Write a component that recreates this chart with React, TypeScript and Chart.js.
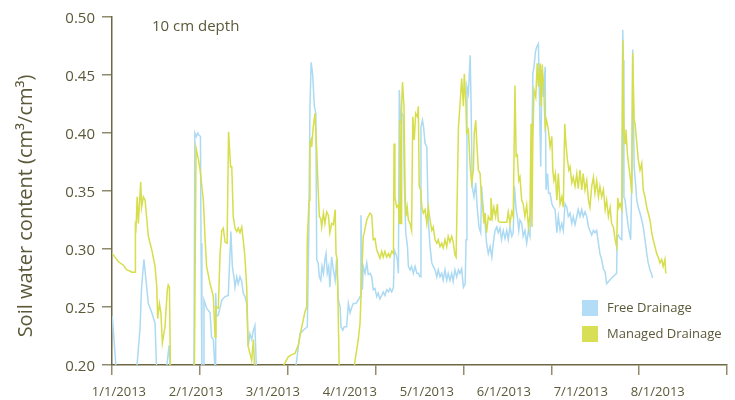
import React, { useEffect, useRef } from 'react';
import { Chart, registerables } from 'chart.js';

Chart.register(...registerables);

// ---- Data (x = days since 1/1/2013, y = volumetric water content) ----
const MONTH_LABELS = ['1/1/2013', '2/1/2013', '3/1/2013', '4/1/2013', '5/1/2013', '6/1/2013', '7/1/2013', '8/1/2013'];
const SERIES_NAMES = ['Free Drainage', 'Managed Drainage'];
const Y_TITLE = 'Soil water content (cm³/cm³)';
const ANNOTATION = '10 cm depth';

const FREE_DAY = [
  0.1, 1.6, 2.0, 8.0, 8.4, 9.6, 10.1, 10.9, 11.5, 12.4, 13.6, 14.7, 15.3, 15.6, 18.2, 18.5, 19.5, 19.9, 20.2, 27.9,
  28.3, 28.8, 29.3, 29.7, 30.2, 30.4, 30.7, 31.0, 31.2, 31.4, 32.3, 33.5, 34.0, 34.6, 35.2, 35.4, 35.7, 36.3, 37.5, 38.6,
  39.7, 40.6, 41.1, 41.8, 42.0, 42.6, 43.1, 43.7, 44.3, 44.8, 45.4, 46.0, 46.5, 47.1, 47.7, 48.3, 48.8, 49.4, 49.7, 62.0,
  62.6, 64.2, 65.3, 66.7, 67.2, 67.6, 68.0, 68.5, 69.1, 69.6, 69.9, 70.4, 70.8, 71.3, 71.7, 72.2, 72.7, 73.1, 73.5, 74.0,
  74.4, 75.0, 75.6, 76.2, 76.7, 77.3, 77.9, 78.2, 78.8, 79.3, 80.1, 80.7, 81.3, 81.9, 82.4, 83.3, 84.1, 84.7, 85.0, 85.5,
  85.8, 86.4, 87.0, 87.5, 88.1, 88.7, 89.2, 89.8, 90.4, 90.9, 91.5, 92.1, 92.6, 93.2, 93.8, 94.4, 94.9, 95.5, 96.1, 96.4,
  96.9, 97.4, 97.8, 98.1, 98.6, 98.9, 99.5, 99.8, 100.3, 100.9, 101.2, 101.8, 102.3, 102.9, 103.5, 104.1, 104.6, 105.2, 105.5, 106.0,
  106.4, 106.9, 107.5, 108.0, 108.6, 109.2, 109.7, 110.3, 110.9, 111.4, 112.0, 112.6, 113.1, 113.7, 114.3, 114.8, 115.4, 116.0, 116.5, 117.1,
  117.7, 118.3, 118.8, 119.4, 120.0, 120.6, 120.9, 121.2, 121.7, 122.3, 122.6, 123.0, 123.6, 124.2, 124.7, 125.3, 125.9, 126.2, 126.8, 127.4,
  127.9, 128.5, 129.1, 129.7, 130.2, 130.8, 131.4, 131.9, 132.5, 133.0, 133.6, 134.2, 134.8, 135.3, 135.9, 136.5, 137.0, 137.4, 138.0, 138.4,
  138.9, 139.3, 139.9, 140.4, 141.0, 141.6, 142.2, 142.7, 143.2, 143.7, 144.1, 144.6, 145.0, 145.6, 145.9, 146.4, 146.8, 147.3, 147.9, 148.2,
  148.7, 149.1, 149.6, 150.2, 150.7, 151.3, 151.9, 152.4, 153.0, 153.6, 154.1, 154.7, 155.3, 155.8, 156.4, 157.0, 157.5, 158.1, 158.7, 159.2,
  159.8, 160.4, 160.9, 161.5, 162.1, 162.7, 163.2, 163.8, 164.4, 164.9, 165.5, 166.1, 166.6, 167.2, 167.8, 168.4, 168.9, 170.6, 172.3, 172.5,
  172.9, 173.5, 174.1, 174.4, 174.6, 174.8, 175.2, 175.7, 176.3, 176.9, 177.1, 177.5, 177.8, 178.3, 178.6, 179.2, 179.7, 180.3, 180.9, 181.4,
  182.0, 182.6, 183.1, 183.7, 184.3, 184.6,
];
const FREE_VWC = [
  0.242, 0.190, 0.150, 0.150, 0.195, 0.233, 0.267, 0.291, 0.276, 0.253, 0.245, 0.236, 0.190, 0.150, 0.150, 0.195, 0.217, 0.190, 0.150, 0.150,
  0.400, 0.397, 0.400, 0.398, 0.397, 0.305, 0.190, 0.150, 0.150, 0.256, 0.249, 0.245, 0.224, 0.222, 0.195, 0.262, 0.242, 0.243, 0.256, 0.259,
  0.260, 0.315, 0.285, 0.273, 0.267, 0.276, 0.270, 0.276, 0.272, 0.262, 0.259, 0.253, 0.216, 0.227, 0.222, 0.230, 0.234, 0.190, 0.150, 0.150,
  0.195, 0.227, 0.230, 0.233, 0.311, 0.423, 0.461, 0.451, 0.423, 0.417, 0.291, 0.288, 0.276, 0.273, 0.285, 0.279, 0.291, 0.296, 0.279, 0.285,
  0.267, 0.293, 0.282, 0.273, 0.291, 0.256, 0.250, 0.233, 0.230, 0.233, 0.233, 0.253, 0.245, 0.250, 0.253, 0.253, 0.256, 0.259, 0.329, 0.265,
  0.285, 0.279, 0.288, 0.278, 0.279, 0.276, 0.265, 0.266, 0.259, 0.262, 0.257, 0.260, 0.263, 0.260, 0.265, 0.263, 0.266, 0.263, 0.267, 0.299,
  0.296, 0.291, 0.279, 0.437, 0.408, 0.417, 0.414, 0.359, 0.314, 0.302, 0.285, 0.282, 0.285, 0.279, 0.285, 0.279, 0.279, 0.276, 0.405, 0.411,
  0.405, 0.391, 0.388, 0.325, 0.302, 0.288, 0.285, 0.282, 0.276, 0.282, 0.276, 0.279, 0.273, 0.282, 0.273, 0.279, 0.273, 0.279, 0.272, 0.282,
  0.276, 0.282, 0.279, 0.283, 0.267, 0.270, 0.308, 0.440, 0.434, 0.467, 0.426, 0.354, 0.345, 0.357, 0.336, 0.319, 0.314, 0.354, 0.334, 0.322,
  0.305, 0.296, 0.302, 0.293, 0.305, 0.316, 0.319, 0.314, 0.318, 0.308, 0.316, 0.309, 0.316, 0.308, 0.319, 0.311, 0.314, 0.354, 0.334, 0.328,
  0.316, 0.325, 0.322, 0.311, 0.316, 0.305, 0.316, 0.311, 0.354, 0.451, 0.457, 0.470, 0.474, 0.477, 0.437, 0.371, 0.454, 0.431, 0.457, 0.351,
  0.365, 0.348, 0.348, 0.339, 0.336, 0.334, 0.314, 0.328, 0.316, 0.322, 0.316, 0.339, 0.336, 0.328, 0.331, 0.322, 0.328, 0.321, 0.328, 0.334,
  0.328, 0.334, 0.328, 0.332, 0.328, 0.319, 0.316, 0.312, 0.316, 0.314, 0.316, 0.305, 0.296, 0.291, 0.283, 0.280, 0.270, 0.275, 0.279, 0.311,
  0.312, 0.309, 0.308, 0.489, 0.463, 0.345, 0.342, 0.331, 0.319, 0.311, 0.308, 0.362, 0.472, 0.371, 0.362, 0.342, 0.336, 0.331, 0.325, 0.319,
  0.308, 0.296, 0.288, 0.282, 0.278, 0.275,
];

const MANAGED_DAY = [
  0.1, 1.0, 2.2, 3.9, 5.0, 6.1, 6.7, 7.9, 8.0, 8.2, 8.6, 9.0, 9.8, 10.1, 10.7, 11.3, 11.8, 12.4, 13.6, 14.7,
  15.3, 15.6, 16.2, 16.7, 17.2, 18.1, 18.9, 19.2, 19.6, 20.0, 20.3, 28.0, 28.7, 29.5, 30.1, 31.2, 31.8, 32.3, 33.5, 34.6,
  35.2, 35.5, 36.3, 36.9, 37.5, 38.0, 38.6, 39.3, 39.8, 40.5, 40.9, 41.4, 42.0, 42.6, 43.1, 43.7, 44.3, 44.8, 45.4, 46.0,
  46.5, 47.1, 47.7, 48.3, 48.8, 49.2, 57.2, 57.6, 60.2, 61.4, 62.5, 63.6, 64.8, 65.9, 66.5, 66.7, 67.3, 67.6, 68.0, 68.2,
  68.7, 69.3, 69.9, 70.4, 70.8, 71.3, 71.6, 72.2, 72.7, 73.3, 73.9, 74.4, 75.0, 75.6, 76.2, 76.5, 76.9, 77.6, 77.9, 82.0,
  82.4, 83.0, 84.1, 84.7, 85.3, 85.8, 86.2, 87.0, 87.5, 88.1, 88.7, 89.2, 89.8, 90.4, 90.9, 91.5, 92.1, 92.6, 93.2, 93.8,
  94.4, 94.9, 95.5, 96.1, 96.3, 96.6, 97.2, 97.8, 98.1, 98.3, 98.7, 98.9, 99.2, 99.7, 100.1, 100.4, 100.8, 101.2, 101.8, 102.3,
  102.7, 103.2, 103.7, 104.3, 104.6, 104.9, 105.4, 105.8, 106.3, 106.9, 107.5, 108.0, 108.6, 109.2, 109.7, 110.3, 110.9, 111.4, 112.0, 112.6,
  113.1, 113.7, 114.3, 114.8, 115.4, 116.0, 116.5, 117.1, 117.5, 117.9, 118.3, 118.8, 119.4, 120.0, 120.3, 120.8, 121.1, 121.7, 122.3, 122.8,
  123.4, 123.7, 124.2, 124.5, 125.1, 125.7, 126.2, 126.6, 127.0, 127.4, 127.9, 128.5, 129.1, 129.4, 129.9, 130.4, 131.0, 131.6, 131.9, 132.5,
  134.8, 135.3, 135.9, 136.5, 137.0, 137.6, 138.0, 138.4, 138.9, 139.3, 139.9, 140.4, 141.0, 141.6, 142.2, 142.7, 143.1, 143.4, 143.7, 144.1,
  144.7, 145.2, 145.6, 146.2, 146.5, 146.9, 147.4, 147.9, 148.4, 149.0, 149.6, 150.2, 150.5, 150.9, 151.4, 151.9, 152.4, 153.0, 153.6, 154.1,
  154.6, 155.0, 155.5, 156.0, 156.4, 157.0, 157.5, 158.1, 158.7, 159.2, 159.8, 160.4, 160.9, 161.5, 162.1, 162.7, 163.2, 163.8, 164.4, 164.9,
  165.5, 166.1, 166.6, 167.2, 167.8, 168.4, 168.9, 169.5, 170.1, 170.6, 171.2, 171.8, 172.3, 172.7, 173.1, 173.5, 174.1, 174.4, 174.8, 175.2,
  175.5, 176.0, 176.5, 177.1, 177.5, 177.8, 178.3, 178.6, 179.2, 179.7, 180.3, 180.9, 181.4, 182.0, 182.6, 183.1, 183.7, 184.3, 184.8, 185.4,
  186.0, 186.5, 187.1, 187.7, 188.2, 188.8, 189.1,
];
const MANAGED_VWC = [
  0.296, 0.293, 0.289, 0.286, 0.282, 0.281, 0.280, 0.280, 0.320, 0.318, 0.345, 0.322, 0.358, 0.336, 0.345, 0.342, 0.328, 0.311, 0.299, 0.285,
  0.267, 0.240, 0.253, 0.245, 0.219, 0.233, 0.265, 0.269, 0.267, 0.190, 0.150, 0.150, 0.387, 0.377, 0.368, 0.342, 0.308, 0.285, 0.270, 0.259,
  0.224, 0.250, 0.249, 0.296, 0.316, 0.318, 0.306, 0.305, 0.401, 0.371, 0.371, 0.328, 0.318, 0.315, 0.318, 0.314, 0.319, 0.308, 0.293, 0.267,
  0.216, 0.210, 0.204, 0.222, 0.190, 0.150, 0.150, 0.195, 0.207, 0.209, 0.210, 0.217, 0.233, 0.246, 0.250, 0.309, 0.342, 0.391, 0.394, 0.388,
  0.405, 0.417, 0.385, 0.351, 0.328, 0.326, 0.319, 0.331, 0.322, 0.332, 0.329, 0.314, 0.322, 0.321, 0.334, 0.296, 0.291, 0.195, 0.150, 0.150,
  0.190, 0.204, 0.222, 0.236, 0.279, 0.311, 0.315, 0.325, 0.328, 0.331, 0.329, 0.308, 0.309, 0.299, 0.296, 0.292, 0.298, 0.293, 0.298, 0.293,
  0.296, 0.293, 0.298, 0.296, 0.391, 0.345, 0.336, 0.338, 0.322, 0.411, 0.322, 0.423, 0.444, 0.423, 0.348, 0.328, 0.336, 0.325, 0.322, 0.316,
  0.414, 0.394, 0.417, 0.414, 0.423, 0.354, 0.351, 0.336, 0.331, 0.334, 0.322, 0.336, 0.325, 0.316, 0.319, 0.308, 0.305, 0.308, 0.302, 0.305,
  0.301, 0.308, 0.302, 0.311, 0.306, 0.311, 0.306, 0.295, 0.293, 0.349, 0.405, 0.423, 0.447, 0.423, 0.451, 0.428, 0.400, 0.403, 0.371, 0.357,
  0.368, 0.400, 0.411, 0.394, 0.368, 0.365, 0.342, 0.336, 0.322, 0.331, 0.314, 0.328, 0.325, 0.344, 0.328, 0.336, 0.328, 0.339, 0.324, 0.323,
  0.323, 0.332, 0.322, 0.332, 0.328, 0.441, 0.380, 0.381, 0.359, 0.362, 0.342, 0.339, 0.328, 0.338, 0.319, 0.329, 0.408, 0.319, 0.394, 0.437,
  0.431, 0.460, 0.440, 0.460, 0.423, 0.459, 0.440, 0.405, 0.411, 0.403, 0.388, 0.397, 0.368, 0.359, 0.365, 0.342, 0.365, 0.339, 0.345, 0.336,
  0.408, 0.391, 0.377, 0.368, 0.371, 0.357, 0.362, 0.354, 0.365, 0.352, 0.368, 0.351, 0.365, 0.351, 0.359, 0.342, 0.336, 0.354, 0.362, 0.348,
  0.359, 0.345, 0.354, 0.345, 0.351, 0.334, 0.342, 0.328, 0.336, 0.322, 0.319, 0.308, 0.302, 0.344, 0.336, 0.339, 0.334, 0.480, 0.403, 0.391,
  0.403, 0.382, 0.371, 0.359, 0.348, 0.469, 0.411, 0.408, 0.391, 0.377, 0.368, 0.374, 0.351, 0.345, 0.336, 0.331, 0.325, 0.314, 0.308, 0.302,
  0.296, 0.293, 0.288, 0.291, 0.285, 0.291, 0.279,
];

// ---- Styling ----
const TEXT_COLOR = '#5b5939';
const AXIS_COLOR = '#6c6843';
const TICK_COLOR = '#8f8b6c';
const FREE_COLOR = '#acdaf3';
const MANAGED_COLOR = '#d6de4c';
const FREE_BOX = '#b3ddf6';
const MANAGED_BOX = '#d8df55';
const FONT = '"Open Sans", "Noto Sans", sans-serif';

const toPoints = (xs: number[], ys: number[]) => xs.map((x, i) => ({ x, y: ys[i] }));

const overlayPlugin = {
  id: 'overlayText',
  afterDraw(chart: any) {
    const { ctx, chartArea } = chart;
    ctx.save();
    ctx.fillStyle = TEXT_COLOR;

    // annotation
    ctx.font = `15px ${FONT}`;
    ctx.textAlign = 'left';
    ctx.textBaseline = 'alphabetic';
    ctx.fillText(ANNOTATION, chartArea.left + 40, chartArea.top + 14);

    // y-axis title
    ctx.save();
    ctx.translate(26, chartArea.top + 189);
    ctx.rotate(-Math.PI / 2);
    ctx.font = `20px ${FONT}`;
    ctx.textAlign = 'center';
    ctx.textBaseline = 'middle';
    ctx.fillText(Y_TITLE, 0, 0);
    ctx.restore();

    // legend
    const boxes = [FREE_BOX, MANAGED_BOX];
    const lx = chartArea.right - 145;
    const ly = chartArea.bottom - 65;
    ctx.font = `13px ${FONT}`;
    ctx.textBaseline = 'middle';
    SERIES_NAMES.forEach((name, i) => {
      const top = ly + i * 26;
      ctx.fillStyle = boxes[i];
      ctx.fillRect(lx, top, 16, 16);
      ctx.fillStyle = TEXT_COLOR;
      ctx.fillText(name, lx + 25, top + 8.5);
    });
    ctx.restore();
  },
};

export default function App() {
  const canvasRef = useRef<HTMLCanvasElement | null>(null);

  useEffect(() => {
    if (!canvasRef.current) return;
    Chart.defaults.font.family = FONT;
    Chart.defaults.color = TEXT_COLOR;

    const chart = new Chart(canvasRef.current, {
      type: 'line',
      data: {
        datasets: [
          {
            label: SERIES_NAMES[0],
            data: toPoints(FREE_DAY, FREE_VWC),
            borderColor: FREE_COLOR,
            backgroundColor: FREE_COLOR,
            borderWidth: 1.5,
            pointRadius: 0,
            tension: 0,
            order: 2,
            xAxisID: 'x',
            yAxisID: 'y',
          },
          {
            label: SERIES_NAMES[1],
            data: toPoints(MANAGED_DAY, MANAGED_VWC),
            borderColor: MANAGED_COLOR,
            backgroundColor: MANAGED_COLOR,
            borderWidth: 1.5,
            pointRadius: 0,
            tension: 0,
            order: 1,
            xAxisID: 'x',
            yAxisID: 'y',
          },
        ],
      },
      options: {
        animation: false,
        responsive: false,
        devicePixelRatio: 1,
        events: [],
        layout: { padding: { top: 17, right: 8, left: 0, bottom: 0 } },
        plugins: {
          legend: { display: false },
          tooltip: { enabled: false },
          title: { display: false },
        },
        scales: {
          x: {
            type: 'linear',
            position: 'bottom',
            min: 0,
            max: 210,
            ticks: { display: false, stepSize: 30 },
            grid: {
              drawOnChartArea: false,
              drawTicks: true,
              tickLength: 10,
              tickColor: TICK_COLOR,
              lineWidth: 1.5,
            },
            border: { display: true, color: AXIS_COLOR, width: 1.5 },
            afterFit: (s: any) => {
              s.height = 12;
            },
          },
          xLabels: {
            type: 'linear',
            position: 'bottom',
            weight: 1,
            min: -0.09,
            max: 7.9,
            afterBuildTicks: (s: any) => {
              s.ticks = MONTH_LABELS.map((_, i) => ({ value: i }));
            },
            ticks: {
              autoSkip: false,
              maxRotation: 0,
              padding: 7,
              color: TEXT_COLOR,
              font: { size: 13 },
              callback: (_v: any, i: number) => MONTH_LABELS[i],
            },
            grid: { display: false, drawTicks: false },
            border: { display: false },
            afterFit: (s: any) => {
              s.height = 23;
            },
          },
          y: {
            type: 'linear',
            min: 0.2,
            max: 0.5,
            ticks: {
              stepSize: 0.05,
              padding: 7,
              labelOffset: 2,
              color: TEXT_COLOR,
              font: { size: 15 },
              callback: (v: any) => Number(v).toFixed(2),
            },
            grid: {
              drawOnChartArea: false,
              drawTicks: true,
              tickLength: 10,
              tickColor: TICK_COLOR,
              lineWidth: 1.5,
            },
            border: { display: true, color: AXIS_COLOR, width: 1.5 },
            afterFit: (s: any) => {
              s.width = 112;
            },
          },
        },
      },
      plugins: [overlayPlugin],
    });

    return () => chart.destroy();
  }, []);

  return (
    <div style={{ position: 'fixed', left: 0, top: 0, width: 735, height: 400, background: '#fff' }}>
      <canvas ref={canvasRef} width={735} height={400} style={{ display: 'block' }} />
    </div>
  );
}
